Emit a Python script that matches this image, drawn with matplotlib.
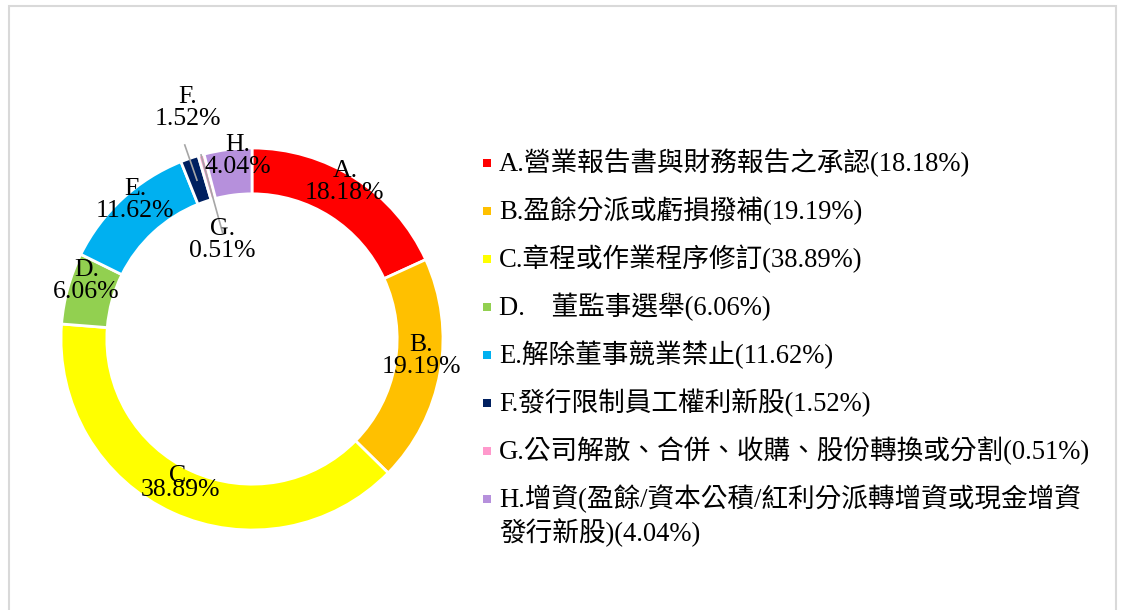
import matplotlib
matplotlib.use('Agg')
import matplotlib.pyplot as plt
import numpy as np
from matplotlib.patches import Rectangle

# ---- data ----
categories = ['A.', 'B.', 'C.', 'D.', 'E.', 'F.', 'G.', 'H.']
shares = [18.18, 19.19, 38.89, 6.06, 11.62, 1.52, 0.51, 4.04]
legend_labels = [
    'A.營業報告書與財務報告之承認(18.18%)',
    'B.盈餘分派或虧損撥補(19.19%)',
    'C.章程或作業程序修訂(38.89%)',
    'D.\u3000董監事選舉(6.06%)',
    'E.解除董事競業禁止(11.62%)',
    'F.發行限制員工權利新股(1.52%)',
    'G.公司解散、合併、收購、股份轉換或分割(0.51%)',
    'H.增資(盈餘/資本公積/紅利分派轉增資或現金增資\n發行新股)(4.04%)',
]
colors = ['#FF0000', '#FFC000', '#FFFF00', '#92D050', '#00B0F0',
          '#002060', '#FF99CC', '#B690DC']

plt.rcParams['font.family'] = ['Liberation Serif', 'Noto Sans CJK TC']

W, H = 1122, 610
fig = plt.figure(figsize=(W / 100, H / 100), dpi=100)
fig.patch.set_facecolor('white')

# outer frame
fig.add_artist(Rectangle((8.5 / W, -0.02), (1116 - 8.5) / W, (H - 6) / H + 0.02,
                         transform=fig.transFigure, fill=False,
                         edgecolor='#D9D9D9', linewidth=1.5))

# donut axes
cx, cy, R = 252, 339, 191
lim = 1.3
ax = fig.add_axes([(cx - lim * R) / W, (H - cy - lim * R) / H,
                   2 * lim * R / W, 2 * lim * R / H])
wedges, _ = ax.pie(shares, colors=colors, startangle=90, counterclock=False,
                   radius=1.0,
                   wedgeprops=dict(width=0.24, edgecolor='white', linewidth=2.0))
ax.set_xlim(-lim, lim)
ax.set_ylim(-lim, lim)
ax.axis('off')

# data labels
special_pos = {5: (-0.337, 1.21), 6: (-0.155, 0.516), 7: (-0.074, 0.958)}
leaders = {5: (1.075, 0.88), 6: (1.0, 0.58)}
for i, w in enumerate(wedges):
    mid = np.deg2rad((w.theta1 + w.theta2) / 2)
    if i in special_pos:
        x, y = special_pos[i]
    else:
        x, y = 0.9 * np.cos(mid), 0.9 * np.sin(mid) + 0.065
    ls = 0.55 if i == 2 else 1.0
    ax.text(x, y, f'{categories[i]}\n{shares[i]:.2f}%', ha='center', va='center',
            fontsize=18.5, color='black', linespacing=ls, zorder=5)
    if i in leaders:
        r1, r2 = leaders[i]
        ax.plot([r1 * np.cos(mid), r2 * np.cos(mid)],
                [r1 * np.sin(mid), r2 * np.sin(mid)],
                color='#A6A6A6', linewidth=1.2, zorder=4)

# legend (manual)
y0, dy, line2 = 163, 48.0, 34
for i, (lab, col) in enumerate(zip(legend_labels, colors)):
    yc = y0 + i * dy
    fig.add_artist(Rectangle((482.5 / W, (H - yc - 4) / H), 8 / W, 8 / H,
                             transform=fig.transFigure, facecolor=col,
                             edgecolor='none'))
    for j, line in enumerate(lab.split('\n')):
        fig.text(499 / W, (H - yc - j * line2) / H, line, ha='left', va='center',
                 fontsize=19.2, color='black')

fig.savefig('out.png', dpi=100, facecolor='white')
